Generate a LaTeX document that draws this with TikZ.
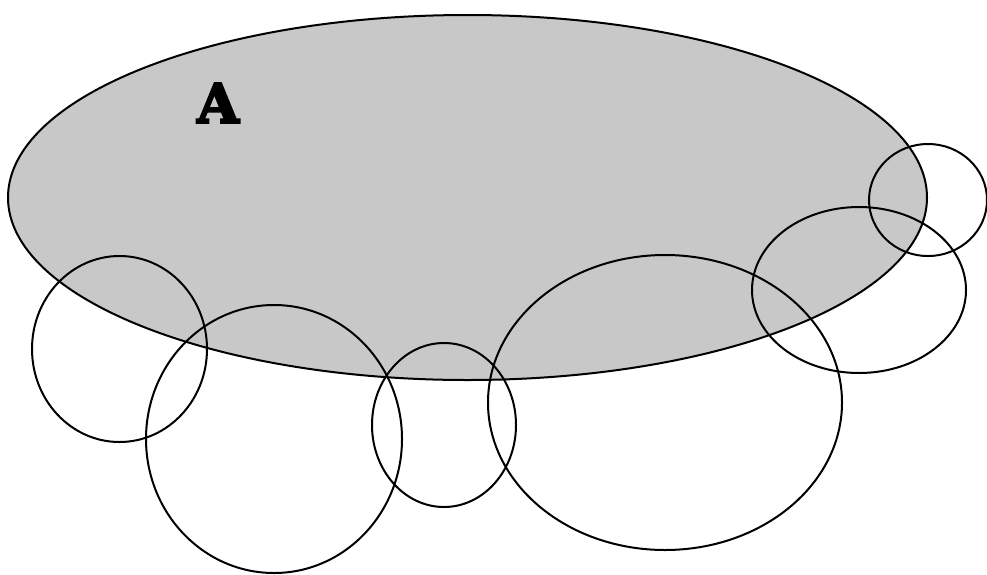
\documentclass[tikz,border=0pt]{standalone}
\usepackage{fontspec}
\newfontfamily\afont[FakeBold=4]{DejaVu Serif Bold}
\definecolor{setgray}{RGB}{200,200,200}
\begin{document}
\begin{tikzpicture}[x=1pt,y=-1pt,
  setline/.style={draw=black,line width=2pt},
  setshape/.style={setline}]
\useasboundingbox (0,0) rectangle (987,574);
\fill[setgray] (467.5,197.5) ellipse [x radius=459.5, y radius=182.5];
\draw[setshape] (467.5,197.5) ellipse [x radius=459.5, y radius=182.5];
\node[font=\afont\fontsize{54}{54}\selectfont, inner sep=0pt] (A) at (218,103) {A};
\draw[setshape] (928,200) ellipse [x radius=59, y radius=56];
\draw[setshape] (859,290) ellipse [x radius=107, y radius=83];
\draw[setshape] (119.5,349) ellipse [x radius=87.5, y radius=93];
\draw[setshape] (274,439) ellipse [x radius=128, y radius=134];
\draw[setshape] (444,425) ellipse [x radius=72, y radius=82];
\draw[setshape] (665,402.5) ellipse [x radius=177, y radius=147.5];
\end{tikzpicture}
\end{document}
